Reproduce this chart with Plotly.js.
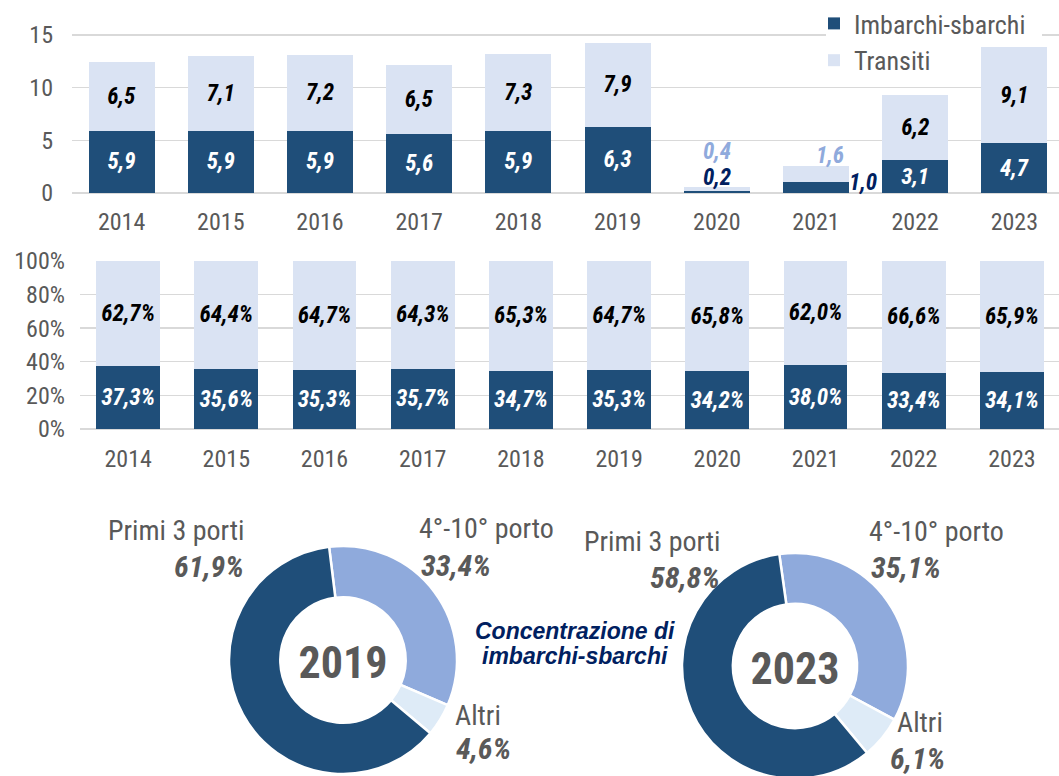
<!DOCTYPE html>
<html>
<head>
<meta charset="utf-8">
<script src="https://cdn.plot.ly/plotly-3.0.1.min.js"></script>
<style>
html,body{margin:0;padding:0;overflow:hidden;background:#fff;}
#chart{width:1059px;height:790px;}
</style>
</head>
<body>
<div id="chart"></div>
<script>
// ---------- DATA ----------
const years = ['2014','2015','2016','2017','2018','2019','2020','2021','2022','2023'];
const imbarchiSbarchi = [5.9, 5.9, 5.9, 5.6, 5.9, 6.3, 0.2, 1.0, 3.1, 4.7];
const transiti = [6.5, 7.1, 7.2, 6.5, 7.3, 7.9, 0.4, 1.6, 6.2, 9.1];
const quotaImbarchi = [37.3, 35.6, 35.3, 35.7, 34.7, 35.3, 34.2, 38.0, 33.4, 34.1];
const quotaTransiti = [62.7, 64.4, 64.7, 64.3, 65.3, 64.7, 65.8, 62.0, 66.6, 65.9];
const pieLabels = ['4°-10° porto', 'Altri', 'Primi 3 porti'];
const pie2019 = [33.4, 4.6, 61.9];
const pie2023 = [35.1, 6.1, 58.8];
const seriesNames = ['Imbarchi-sbarchi', 'Transiti'];
const centerNote = ['Concentrazione di', 'imbarchi-sbarchi'];
const absTicks = [0, 5, 10, 15];
const pctTicks = [0, 20, 40, 60, 80, 100];

// ---------- STYLE ----------
const W = 1059, H = 790;
const fx = p => p / W;
const fy = p => 1 - p / H;
const DARK = '#1F4E79', LIGHT = '#DAE3F3', PIE_MID = '#8FAADC', PIE_LIGHT = '#DEEBF7';
const GRAY = '#595959', NAVY = '#002060';
const FN = "'Liberation Sans Narrow', 'Arial Narrow', 'Roboto Condensed', 'Liberation Sans', sans-serif";
const fmt1 = v => v.toFixed(1).replace('.', ',');
const smallIdx = [6, 7]; // bars whose labels sit outside

const labelFont = (c, s) => ({family: FN, size: s || 23, color: c, weight: 'bold', style: 'italic'});

const traces = [
  {type: 'bar', name: seriesNames[0], x: years, y: imbarchiSbarchi, xaxis: 'x', yaxis: 'y',
   marker: {color: DARK}, width: 0.665,
   text: imbarchiSbarchi.map((v, i) => smallIdx.includes(i) ? '' : fmt1(v)),
   textposition: 'inside', insidetextanchor: 'middle', textangle: 0,
   insidetextfont: labelFont('#ffffff'), hoverinfo: 'skip'},
  {type: 'bar', name: seriesNames[1], x: years, y: transiti, xaxis: 'x', yaxis: 'y',
   marker: {color: LIGHT}, width: 0.665,
   text: transiti.map((v, i) => smallIdx.includes(i) ? '' : fmt1(v)),
   textposition: 'inside', insidetextanchor: 'middle', textangle: 0,
   insidetextfont: labelFont('#000000'), hoverinfo: 'skip'},
  {type: 'bar', name: seriesNames[0], x: years, y: quotaImbarchi, xaxis: 'x2', yaxis: 'y2',
   marker: {color: DARK}, width: 0.65, showlegend: false,
   text: quotaImbarchi.map(v => fmt1(v) + '%'),
   textposition: 'inside', insidetextanchor: 'middle', textangle: 0,
   insidetextfont: labelFont('#ffffff'), hoverinfo: 'skip'},
  {type: 'bar', name: seriesNames[1], x: years, y: quotaTransiti, xaxis: 'x2', yaxis: 'y2',
   marker: {color: LIGHT}, width: 0.65, showlegend: false,
   text: quotaTransiti.map(v => fmt1(v) + '%'),
   textposition: 'inside', insidetextanchor: 'middle', textangle: 0,
   insidetextfont: labelFont('#000000'), hoverinfo: 'skip'},
  {type: 'pie', labels: pieLabels, values: pie2019, sort: false, direction: 'clockwise', rotation: -7,
   hole: 0.55, textinfo: 'none', showlegend: false, hoverinfo: 'skip',
   marker: {colors: [PIE_MID, PIE_LIGHT, DARK], line: {color: '#ffffff', width: 2.5}},
   domain: {x: [fx(229), fx(457)], y: [fy(774), fy(546)]},
   title: {text: '2019', position: 'middle center', font: {family: FN, size: 44, color: GRAY, weight: 'bold'}}},
  {type: 'pie', labels: pieLabels, values: pie2023, sort: false, direction: 'clockwise', rotation: -8,
   hole: 0.55, textinfo: 'none', showlegend: false, hoverinfo: 'skip',
   marker: {colors: [PIE_MID, PIE_LIGHT, DARK], line: {color: '#ffffff', width: 2.5}},
   domain: {x: [fx(682), fx(908)], y: [fy(779), fy(553)]},
   title: {text: '2023', position: 'middle center', font: {family: FN, size: 44, color: GRAY, weight: 'bold'}}}
];

const tickFont = {family: FN, size: 24, color: GRAY};
const annotations = [];
// outside labels for the small bars (2020, 2021)
annotations.push({xref: 'x', yref: 'y', x: 6, y: 3.9, text: fmt1(transiti[6]), showarrow: false,
  font: labelFont(PIE_MID)});
annotations.push({xref: 'x', yref: 'y', x: 6, y: 1.5, text: fmt1(imbarchiSbarchi[6]), showarrow: false,
  font: labelFont(NAVY)});
annotations.push({xref: 'x', yref: 'y', x: 7, y: 3.6, text: fmt1(transiti[7]), showarrow: false, xshift: 14,
  font: labelFont(PIE_MID)});
annotations.push({xref: 'x', yref: 'y', x: 7, y: 0.95, text: fmt1(imbarchiSbarchi[7]), showarrow: false, xshift: 47,
  font: labelFont(NAVY)});

// pie labels
const pieLab = (txt, px, py, anchor, bold) => ({xref: 'paper', yref: 'paper', x: fx(px), y: fy(py),
  xanchor: anchor, yanchor: 'middle', text: txt, showarrow: false,
  font: bold ? {family: FN, size: 30, color: GRAY, weight: 'bold', style: 'italic'} : {family: FN, size: 28, color: GRAY}});
const pct = v => fmt1(v) + '%';
annotations.push(pieLab(pieLabels[2], 246, 530, 'right', false));
annotations.push(pieLab(pct(pie2019[2]), 246, 566, 'right', true));
annotations.push(pieLab(pieLabels[0], 417, 528, 'left', false));
annotations.push(pieLab(pct(pie2019[0]), 419, 565, 'left', true));
annotations.push(pieLab(pieLabels[1], 453, 715, 'left', false));
annotations.push(pieLab(pct(pie2019[1]), 454, 748, 'left', true));
annotations.push(pieLab(pieLabels[2], 722, 541, 'right', false));
annotations.push(pieLab(pct(pie2023[2]), 722, 577, 'right', true));
annotations.push(pieLab(pieLabels[0], 867, 531, 'left', false));
annotations.push(pieLab(pct(pie2023[0]), 869, 567, 'left', true));
annotations.push(pieLab(pieLabels[1], 895, 722, 'left', false));
annotations.push(pieLab(pct(pie2023[1]), 888, 758, 'left', true));
centerNote.forEach((t, i) => annotations.push({xref: 'paper', yref: 'paper', x: fx(575), y: fy(631 + 25 * i),
  xanchor: 'center', yanchor: 'middle', text: t, showarrow: false,
  font: {family: "'Liberation Sans', Arial, sans-serif", size: 23, color: NAVY, weight: 'bold', style: 'italic'}}));

const layout = {
  width: W, height: H,
  margin: {l: 0, r: 0, t: 0, b: 0},
  paper_bgcolor: '#ffffff', plot_bgcolor: '#ffffff',
  separators: ',.',
  barmode: 'stack',
  showlegend: true,
  legend: {x: fx(814), y: 1, xanchor: 'left', yanchor: 'top', bgcolor: 'rgba(0,0,0,0)',
    font: {family: FN, size: 26, color: GRAY}, itemwidth: 30, tracegroupgap: 0,
    traceorder: 'normal', itemclick: false},
  shapes: [
    // white mask behind first legend entry (hides the 15 gridline as in the original)
    {type: 'rect', xref: 'paper', yref: 'paper', x0: fx(826), x1: fx(1042), y0: fy(42), y1: fy(10),
     fillcolor: '#ffffff', line: {width: 0}, layer: 'above'}
  ],
  xaxis: {domain: [fx(72), 1], range: [-0.5, 9.45], type: 'category', anchor: 'y',
    showgrid: false, showline: false, zeroline: false, ticks: '', tickfont: tickFont, ticklabelstandoff: 12},
  yaxis: {domain: [fy(193), fy(20)], range: [0, 16.4], anchor: 'x', tickvals: absTicks, ticktext: absTicks.map(String),
    showgrid: true, gridcolor: '#D9D9D9', gridwidth: 1.5, zeroline: true, zerolinecolor: '#D9D9D9', zerolinewidth: 1.5,
    showline: false, ticks: '', tickfont: tickFont, ticklabelstandoff: 18},
  xaxis2: {domain: [fx(80), 1], range: [-0.49, 9.48], type: 'category', anchor: 'y2',
    showgrid: false, showline: false, zeroline: false, ticks: '', tickfont: tickFont, ticklabelstandoff: 13},
  yaxis2: {domain: [fy(429), fy(260)], range: [0, 100.5], anchor: 'x2', tickvals: pctTicks,
    ticktext: pctTicks.map(v => v + '%'), showgrid: true, gridcolor: '#D9D9D9', gridwidth: 1.5,
    zeroline: true, zerolinecolor: '#D9D9D9', zerolinewidth: 1.5,
    showline: false, ticks: '', tickfont: tickFont, ticklabelstandoff: 14},
  annotations: annotations
};

Plotly.newPlot('chart', traces, layout, {displayModeBar: false, staticPlot: true});
</script>
</body>
</html>
